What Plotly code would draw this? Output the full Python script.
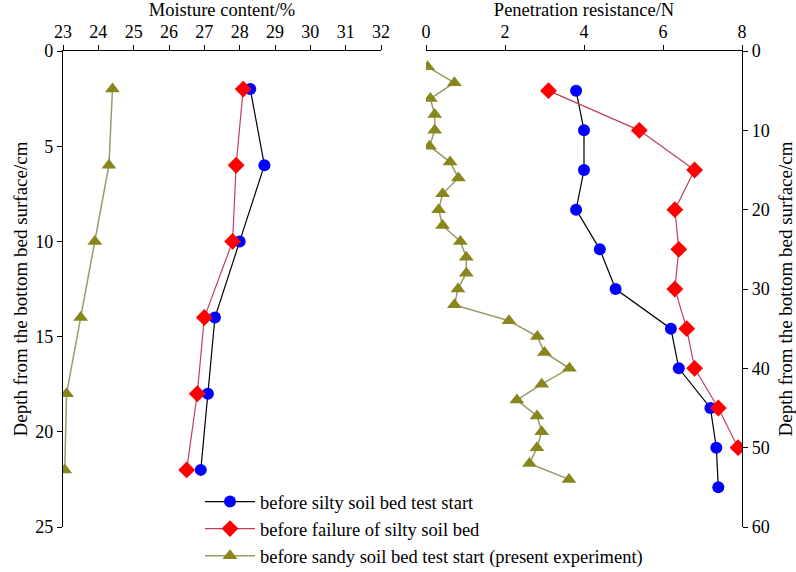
import plotly.graph_objects as go

# ---- data ----
moist_depth = [2, 6, 10, 14, 18, 22]
moist_silty_start = [28.3, 28.7, 28.0, 27.3, 27.1, 26.9]
moist_silty_fail = [28.1, 27.9, 27.8, 27.0, 26.8, 26.5]
moist_sandy_start = [24.4, 24.3, 23.9, 23.5, 23.1, 23.05]

pen_depth_silty = [5, 10, 15, 20, 25, 30, 35, 40, 45, 50, 55]
pen_silty_start = [3.8, 4.0, 4.0, 3.8, 4.4, 4.8, 6.2, 6.4, 7.2, 7.35, 7.4]
pen_depth_fail = [5, 10, 15, 20, 25, 30, 35, 40, 45, 50]
pen_silty_fail = [3.1, 5.4, 6.8, 6.3, 6.4, 6.3, 6.6, 6.8, 7.4, 7.9]
pen_depth_sandy = list(range(2, 55, 2))
pen_sandy_start = [0.04, 0.72, 0.11, 0.22, 0.22, 0.09, 0.61, 0.82, 0.42, 0.32,
                   0.42, 0.87, 1.02, 1.02, 0.81, 0.72, 2.1, 2.82, 3.0, 3.63,
                   2.93, 2.3, 2.81, 2.93, 2.81, 2.62, 3.62]

names = ["before silty soil bed test start",
         "before failure of silty soil bed",
         "before sandy soil bed test start (present experiment)"]

FONT = "Liberation Serif, Times New Roman, serif"
styles = [
    dict(line=dict(color="black", width=1.2),
         marker=dict(symbol="circle", size=12, color="#0000FF")),
    dict(line=dict(color="#C0405A", width=1.2),
         marker=dict(symbol="diamond", size=13, color="#FF0000")),
    dict(line=dict(color="#9A9A6A", width=1.5),
         marker=dict(symbol="triangle-up", size=13, color="#8A861E")),
]

fig = go.Figure()
left_sets = [moist_silty_start, moist_silty_fail, moist_sandy_start]
for i, xs in enumerate(left_sets):
    fig.add_trace(go.Scatter(x=xs, y=moist_depth, mode="lines+markers",
                             name=names[i], xaxis="x", yaxis="y",
                             showlegend=True, **styles[i]))
right_sets = [(pen_silty_start, pen_depth_silty), (pen_silty_fail, pen_depth_fail),
              (pen_sandy_start, pen_depth_sandy)]
for i, (xs, ys) in enumerate(right_sets):
    fig.add_trace(go.Scatter(x=xs, y=ys, mode="lines+markers",
                             name=names[i], xaxis="x2", yaxis="y2",
                             showlegend=False, **styles[i]))

W, H = 796, 572
def px(v):
    return v / W
def py(v):
    return 1 - v / H

axis_common = dict(showline=True, linecolor="black", linewidth=1.3,
                   ticks="outside", tickcolor="black", ticklen=5, tickwidth=1.3,
                   showgrid=False, zeroline=False, automargin=False,
                   tickfont=dict(family=FONT, size=18, color="black"))

XT = 18.5
YT = 19

fig.update_layout(
    width=W, height=H,
    margin=dict(l=0, r=0, t=0, b=0, autoexpand=False),
    paper_bgcolor="white", plot_bgcolor="white",
    font=dict(family=FONT, size=18, color="black"),
    xaxis=dict(domain=[px(63), px(381)], range=[23, 32], side="top",
               anchor="y", dtick=1,
               title=dict(text="Moisture content/%", font=dict(family=FONT, size=XT),
                          standoff=0),
               **axis_common),
    yaxis=dict(domain=[py(527), py(51)], range=[25, 0], side="left",
               anchor="x", dtick=5,
               title=dict(text="Depth from the bottom bed surface/cm",
                          font=dict(family=FONT, size=YT), standoff=2),
               **axis_common),
    xaxis2=dict(domain=[px(426), px(742)], range=[0, 8], side="top",
                anchor="y2", dtick=2,
                title=dict(text="Penetration resistance/N", font=dict(family=FONT, size=XT),
                           standoff=0),
                **axis_common),
    yaxis2=dict(domain=[py(527), py(51)], range=[60, 0], side="right",
                anchor="x2", dtick=10,
                title=dict(text="Depth from the bottom bed surface/cm",
                           font=dict(family=FONT, size=YT), standoff=10),
                **axis_common),
    legend=dict(x=px(200), y=py(483), xanchor="left", yanchor="top",
                bgcolor="rgba(0,0,0,0)", font=dict(family=FONT, size=18.5),
                tracegroupgap=0, itemwidth=50),
)

fig.write_html("out.html")
